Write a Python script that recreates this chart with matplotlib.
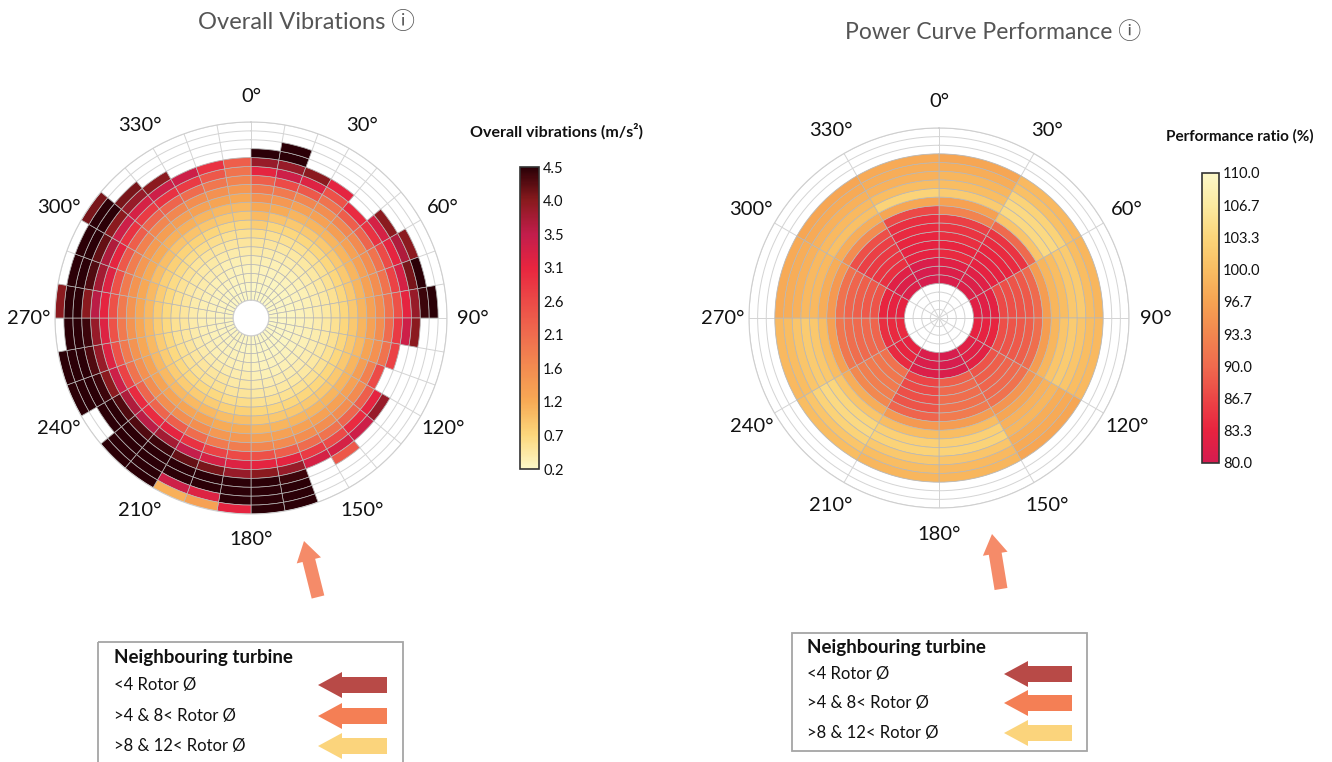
import numpy as np
import matplotlib
matplotlib.use("Agg")
import matplotlib.pyplot as plt
from matplotlib.colors import LinearSegmentedColormap, Normalize
from matplotlib.cm import ScalarMappable
from matplotlib.patches import FancyArrow, Rectangle

plt.rcParams['font.family'] = ['Lato', 'DejaVu Sans', 'Noto Sans CJK SC']

W, H = 1332, 762

# Overall vibrations (m/s²): one list per 10° sector (0°-10°, 10°-20°, ...),
# innermost wind bin first; a short list means the outer bins have no data
vib_sectors = [
    [0.22, 0.25, 0.28, 0.30, 0.35, 0.42, 0.50, 0.60, 0.80, 1.00, 1.20, 1.55, 1.90, 2.30, 3.10, 3.90, 4.50],
    [0.22, 0.24, 0.27, 0.30, 0.34, 0.40, 0.47, 0.56, 0.70, 0.90, 1.15, 1.45, 1.90, 2.60, 3.40, 3.90, 4.50, 4.50],
    [0.22, 0.24, 0.26, 0.29, 0.33, 0.38, 0.45, 0.55, 0.68, 0.85, 1.05, 1.30, 1.70, 2.40, 3.20, 4.00],
    [0.22, 0.24, 0.26, 0.29, 0.33, 0.38, 0.45, 0.55, 0.68, 0.85, 1.05, 1.30, 1.60, 2.00, 2.50, 3.10],
    [0.22, 0.24, 0.26, 0.29, 0.33, 0.38, 0.45, 0.55, 0.68, 0.85, 1.05, 1.35, 1.70, 2.30, 3.00],
    [0.22, 0.24, 0.26, 0.29, 0.33, 0.38, 0.45, 0.55, 0.68, 0.85, 1.05, 1.30, 1.65, 2.20, 2.90, 3.30, 4.00],
    [0.22, 0.24, 0.26, 0.29, 0.33, 0.38, 0.45, 0.55, 0.68, 0.85, 1.05, 1.30, 1.60, 2.00, 2.60, 3.10, 3.70, 4.00],
    [0.22, 0.24, 0.26, 0.29, 0.33, 0.38, 0.45, 0.55, 0.68, 0.85, 1.05, 1.30, 1.60, 2.00, 2.70, 3.30, 4.10, 4.50],
    [0.22, 0.24, 0.26, 0.29, 0.33, 0.38, 0.45, 0.55, 0.68, 0.85, 1.05, 1.30, 1.60, 2.00, 2.50, 3.10, 3.90, 4.40, 4.50],
    [0.22, 0.24, 0.26, 0.29, 0.33, 0.38, 0.45, 0.55, 0.68, 0.85, 1.05, 1.30, 1.60, 2.10, 2.80, 3.40, 4.00],
    [0.22, 0.24, 0.26, 0.29, 0.33, 0.38, 0.45, 0.55, 0.68, 0.85, 1.00, 1.25, 1.55, 2.00, 2.70],
    [0.22, 0.24, 0.26, 0.29, 0.33, 0.38, 0.45, 0.55, 0.68, 0.85, 1.05, 1.35, 1.80, 2.60],
    [0.22, 0.24, 0.26, 0.29, 0.33, 0.38, 0.45, 0.55, 0.68, 0.85, 1.05, 1.30, 1.65, 2.30, 3.10, 3.90],
    [0.22, 0.24, 0.26, 0.29, 0.33, 0.38, 0.45, 0.55, 0.68, 0.85, 1.05, 1.30, 1.60, 2.20, 3.00, 3.40],
    [0.22, 0.24, 0.26, 0.29, 0.33, 0.38, 0.45, 0.55, 0.68, 0.85, 1.05, 1.30, 1.60, 2.00, 2.60, 3.30, 2.40],
    [0.22, 0.24, 0.26, 0.29, 0.33, 0.38, 0.45, 0.55, 0.68, 0.85, 1.05, 1.30, 1.60, 2.10, 2.80, 3.30],
    [0.22, 0.24, 0.26, 0.29, 0.33, 0.38, 0.45, 0.55, 0.68, 0.85, 1.05, 1.30, 1.65, 2.30, 3.10, 3.90, 4.40, 4.50, 4.50, 4.50],
    [0.22, 0.24, 0.26, 0.29, 0.33, 0.38, 0.45, 0.55, 0.68, 0.85, 1.05, 1.30, 1.70, 2.50, 3.10, 4.00, 4.50, 4.50, 4.50, 4.50],
    [0.24, 0.26, 0.29, 0.32, 0.37, 0.43, 0.50, 0.60, 0.75, 0.95, 1.15, 1.45, 1.85, 2.60, 3.20, 3.90, 4.50, 4.50, 4.50, 3.10],
    [0.24, 0.26, 0.29, 0.32, 0.37, 0.43, 0.50, 0.60, 0.75, 0.95, 1.15, 1.45, 1.90, 2.70, 3.30, 4.10, 4.50, 4.50, 3.20, 1.30],
    [0.26, 0.28, 0.31, 0.35, 0.40, 0.47, 0.55, 0.66, 0.80, 1.00, 1.25, 1.60, 2.10, 2.90, 3.50, 4.20, 4.50, 4.50, 3.40, 1.10],
    [0.26, 0.28, 0.31, 0.35, 0.40, 0.47, 0.55, 0.66, 0.80, 1.00, 1.25, 1.60, 2.30, 3.10, 3.80, 4.40, 4.50, 4.50, 4.50, 4.50],
    [0.26, 0.28, 0.31, 0.35, 0.40, 0.47, 0.55, 0.66, 0.80, 1.00, 1.25, 1.60, 2.20, 3.00, 3.60, 4.30, 4.50, 4.50, 4.50, 4.50],
    [0.26, 0.28, 0.31, 0.35, 0.40, 0.47, 0.55, 0.66, 0.80, 1.00, 1.25, 1.60, 2.20, 3.00, 3.70, 4.30, 4.50, 4.50],
    [0.26, 0.28, 0.31, 0.35, 0.40, 0.47, 0.55, 0.66, 0.80, 1.00, 1.25, 1.55, 2.00, 2.70, 3.40, 4.00, 4.40, 4.50, 4.50, 4.50],
    [0.26, 0.28, 0.31, 0.35, 0.40, 0.47, 0.55, 0.66, 0.80, 1.00, 1.20, 1.50, 1.90, 2.50, 3.20, 3.90, 4.30, 4.50, 4.50, 4.50],
    [0.26, 0.28, 0.31, 0.35, 0.40, 0.47, 0.55, 0.66, 0.80, 1.00, 1.20, 1.50, 1.90, 2.50, 3.20, 3.90, 4.40, 4.50, 4.50],
    [0.26, 0.28, 0.31, 0.35, 0.40, 0.47, 0.55, 0.66, 0.80, 1.00, 1.20, 1.50, 1.90, 2.50, 3.10, 3.60, 4.00, 4.50, 4.50, 4.00],
    [0.26, 0.28, 0.31, 0.35, 0.40, 0.47, 0.55, 0.66, 0.80, 1.00, 1.20, 1.50, 1.90, 2.50, 3.20, 3.80, 4.30, 4.50, 4.50],
    [0.25, 0.27, 0.30, 0.34, 0.39, 0.45, 0.53, 0.63, 0.77, 0.95, 1.15, 1.45, 1.85, 2.40, 3.10, 3.70, 4.20, 4.50, 4.50],
    [0.25, 0.27, 0.30, 0.34, 0.39, 0.45, 0.53, 0.63, 0.77, 0.95, 1.15, 1.40, 1.80, 2.30, 2.90, 3.40, 4.00, 4.50, 4.50, 4.10],
    [0.24, 0.26, 0.29, 0.32, 0.37, 0.43, 0.50, 0.60, 0.73, 0.90, 1.10, 1.35, 1.70, 2.20, 2.80, 3.30, 3.90, 4.10],
    [0.24, 0.26, 0.29, 0.32, 0.37, 0.43, 0.50, 0.60, 0.73, 0.90, 1.10, 1.35, 1.70, 2.20, 2.90, 3.40, 4.00],
    [0.23, 0.25, 0.28, 0.31, 0.35, 0.41, 0.48, 0.58, 0.70, 0.87, 1.05, 1.30, 1.60, 2.10, 2.80, 3.40],
    [0.22, 0.24, 0.27, 0.30, 0.34, 0.40, 0.47, 0.56, 0.68, 0.85, 1.00, 1.25, 1.55, 1.95, 2.40, 2.90],
    [0.22, 0.24, 0.27, 0.30, 0.34, 0.40, 0.47, 0.56, 0.68, 0.85, 1.00, 1.20, 1.45, 1.75, 2.00, 2.30],
]
vib_tick_labels = ['0.2', '0.7', '1.2', '1.6', '2.1', '2.6', '3.1', '3.5', '4.0', '4.5']
vib_colors = ['#fcf8c8', '#fcd77c', '#f7aa55', '#f38c50', '#ef6c4e',
              '#ec4a47', '#e8253f', '#c21d4c', '#8a1a1e', '#2b0007']

# Performance ratio (%): one list per 30° sector, bins 4..18 (inner first)
perf_sectors = [
    [81.0, 81.5, 82.0, 84.0, 83.5, 84.5, 85.0, 86.0, 93.0, 96.5, 102.0, 100.0, 99.0, 98.0, 97.0],
    [81.5, 81.5, 82.0, 83.0, 83.0, 83.5, 84.0, 85.0, 90.0, 101.0, 104.0, 104.0, 103.0, 100.5, 99.5],
    [82.0, 82.0, 82.5, 87.0, 87.5, 88.0, 88.5, 90.0, 96.0, 99.0, 100.0, 101.5, 102.0, 100.0, 99.0],
    [83.0, 83.0, 83.5, 87.5, 88.0, 88.5, 89.0, 90.5, 96.0, 99.0, 101.0, 102.0, 101.0, 100.0, 99.5],
    [82.0, 82.0, 82.5, 88.0, 89.0, 89.5, 90.0, 91.0, 95.0, 97.0, 98.5, 99.0, 98.0, 97.5, 97.0],
    [80.5, 80.5, 81.0, 89.0, 90.0, 90.5, 91.0, 92.0, 96.0, 100.0, 102.5, 103.0, 101.0, 99.5, 99.0],
    [81.0, 81.0, 81.5, 86.5, 87.0, 87.5, 88.0, 89.5, 95.5, 100.0, 102.5, 103.0, 101.5, 100.0, 99.0],
    [83.0, 83.5, 84.0, 91.0, 91.5, 92.0, 92.5, 93.5, 98.0, 101.0, 103.5, 104.0, 103.0, 101.0, 100.0],
    [84.0, 84.0, 84.5, 89.5, 90.0, 90.0, 90.5, 91.5, 96.5, 100.0, 101.5, 102.0, 101.0, 100.0, 99.5],
    [83.0, 83.0, 83.5, 88.0, 88.5, 89.0, 89.5, 91.0, 95.5, 98.0, 99.5, 99.5, 98.5, 98.0, 97.5],
    [81.5, 81.5, 82.0, 84.5, 85.0, 85.5, 86.0, 87.5, 94.0, 98.0, 100.5, 99.5, 98.5, 97.5, 97.0],
    [80.5, 80.5, 81.0, 83.0, 83.0, 83.5, 84.0, 84.5, 87.0, 97.0, 103.0, 100.0, 98.5, 98.0, 97.5],
]
perf_tick_labels = ['80.0', '83.3', '86.7', '90.0', '93.3', '96.7', '100.0', '103.3', '106.7', '110.0']
perf_colors = ['#d41c50', '#e8233f', '#ec4646', '#ef6a4e', '#f2864f',
               '#f6a352', '#f9bd62', '#fbd57a', '#fbe9a0', '#fcf7c8']

legend_labels = ['<4 Rotor Ø', '>4 & 8< Rotor Ø', '>8 & 12< Rotor Ø']
legend_colors = ['#b84a47', '#f47f55', '#fbd47c']


def px_box(x0, y0, x1, y1):
    return [x0 / W, 1 - y1 / H, (x1 - x0) / W, (y1 - y0) / H]


fig = plt.figure(figsize=(W / 100, H / 100), dpi=100)
over = fig.add_axes([0, 0, 1, 1])
over.set_xlim(0, W)
over.set_ylim(H, 0)
over.axis('off')


def polar_panel(box, sectors, step, first_ring, n_rings, origin, spoke, cmap, norm, label_r):
    ax = fig.add_axes(box, projection='polar')
    ax.set_theta_zero_location('N')
    ax.set_theta_direction(-1)
    ax.set_rorigin(origin)
    ax.set_ylim(0, n_rings)

    th, bot, cols = [], [], []
    for i, row in enumerate(sectors):
        for k, v in enumerate(row):
            th.append(np.deg2rad((i + 0.5) * step))
            bot.append(first_ring + k)
            cols.append(cmap(norm(v)))
    ax.bar(th, 1, width=np.deg2rad(step), bottom=bot, color=cols,
           edgecolor='#b8b8b8', linewidth=0.5, zorder=2)

    ax.set_xticks(np.deg2rad(np.arange(0, 360, spoke)))
    ax.set_xticklabels([])
    ax.set_yticks(np.arange(0, n_rings + 1))
    ax.set_yticklabels([])
    ax.tick_params(length=0)
    ax.grid(True, color='#d4d4d4', linewidth=0.7)
    for name in ('polar', 'inner'):
        if name in ax.spines:
            ax.spines[name].set_edgecolor('#cfcfcf')
            ax.spines[name].set_linewidth(0.8)
    for deg in range(0, 360, 30):
        ax.text(np.deg2rad(deg), label_r, f'{deg}°', ha='center', va='center',
                fontsize=14.5, color='#111111', clip_on=False)
    return ax


def add_colorbar(box, cmap, norm, labels):
    cax = fig.add_axes(box)
    cb = fig.colorbar(ScalarMappable(norm=norm, cmap=cmap), cax=cax)
    cb.set_ticks(np.linspace(norm.vmin, norm.vmax, len(labels)), labels=labels)
    cax.tick_params(length=0, pad=3, labelsize=10.5, labelcolor='#111111')
    cb.outline.set_edgecolor('#333333')
    cb.outline.set_linewidth(1.2)
    return cb


vib_cmap = LinearSegmentedColormap.from_list('vib', vib_colors)
vib_norm = Normalize(0.2, 4.5)
perf_cmap = LinearSegmentedColormap.from_list('perf', perf_colors)
perf_norm = Normalize(80, 110)

polar_panel(px_box(55, 122, 447, 514), vib_sectors, 10, 0, 20, -2, 10,
            vib_cmap, vib_norm, 22.9)
polar_panel(px_box(749, 128, 1129, 508), perf_sectors, 30, 4, 22, 0, 30,
            perf_cmap, perf_norm, 25.1)

add_colorbar(px_box(520, 167, 539, 469), vib_cmap, vib_norm, vib_tick_labels)
add_colorbar(px_box(1202, 173, 1219, 463), perf_cmap, perf_norm, perf_tick_labels)

# titles
over.text(306, 22, 'Overall Vibrations ⓘ', ha='center', va='center',
          fontsize=17, color='#555555')
over.text(993, 32, 'Power Curve Performance ⓘ', ha='center', va='center',
          fontsize=16.5, color='#555555')
over.text(556, 131, 'Overall vibrations (m/s²)', ha='center', va='center',
          fontsize=11.5, fontweight='bold', color='#111111')
over.text(1240, 136, 'Performance ratio (%)', ha='center', va='center',
          fontsize=11, fontweight='bold', color='#111111')

# neighbouring turbine direction
for (x0, y0, x1, y1) in [(318, 597, 304, 541), (1001, 589, 992, 534)]:
    over.add_patch(FancyArrow(x0, y0, x1 - x0, y1 - y0, width=13, head_width=25,
                              head_length=20, length_includes_head=True,
                              color='#f58b69', lw=0))


def legend_box(x0, y0, x1, y1, text_x, title_y, rows_y, arrow_x0, arrow_x1):
    over.add_patch(Rectangle((x0, y0), x1 - x0, y1 - y0, fill=False,
                             edgecolor='#a5a5a5', linewidth=1.3, clip_on=False))
    over.text(text_x, title_y, 'Neighbouring turbine', ha='left', va='center',
              fontsize=13.5, fontweight='bold', color='#111111')
    for lab, col, yy in zip(legend_labels, legend_colors, rows_y):
        over.text(text_x, yy, lab, ha='left', va='center', fontsize=12, color='#111111')
        over.add_patch(FancyArrow(arrow_x1, yy, arrow_x0 - arrow_x1, 0, width=16,
                                  head_width=26, head_length=24,
                                  length_includes_head=True, color=col, lw=0))


legend_box(98, 642, 403, 775, 114, 657, [685, 716, 746], 318, 387)
legend_box(792, 633, 1087, 751, 807, 648, [674, 703, 733], 1004, 1072)

fig.savefig('out.png', dpi=100)
